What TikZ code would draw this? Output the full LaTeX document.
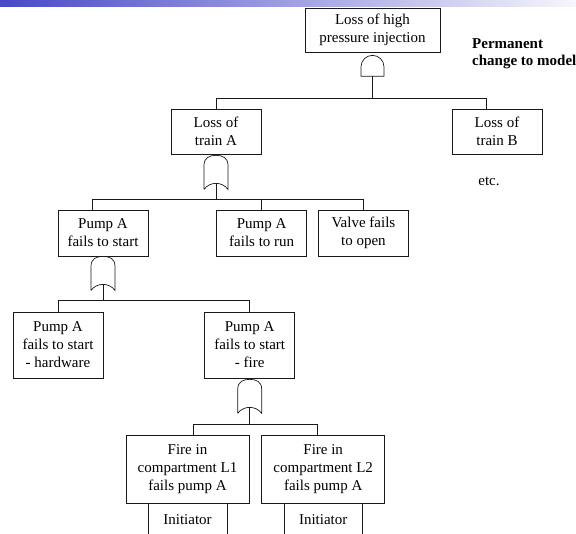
\documentclass[tikz,border=0pt]{standalone}
\usepackage{fontspec}
\setmainfont{Liberation Serif}
\usepackage{xcolor}
\definecolor{BARSTART}{RGB}{72,72,200}
\definecolor{BAREND}{RGB}{246,246,252}
\colorlet{LINECOLOR}{black!90}
\usepackage{tikz}
\usetikzlibrary{positioning,calc}
\tikzset{
  basic-style/.style = {
    rectangle, draw=LINECOLOR, line width=0.7pt,
    align=center, inner sep=0pt,
    font=\fontsize{15}{18}\selectfont
  },
  event-style/.style = {
    basic-style,
    minimum width=90pt,
    minimum height=#1
  },
  event-style/.default = 46pt,
  fire-style/.style = {
    basic-style,
    minimum width=123pt,
    minimum height=68pt
  },
  init-style/.style = {
    basic-style, draw=none,
    minimum width=78pt,
    minimum height=31pt
  },
  note-style/.style = {
    inner sep=0pt, align=left,
    font=\bfseries\fontsize{15}{17}\selectfont
  },
  line-style/.style = {
    draw=LINECOLOR, line width=0.7pt
  }
}
\newcommand\createOrGate[2]{
  \begin{scope}[shift={#2}]
    \draw[line-style] (-12,34) -- (-12,10)
      .. controls (-12,2) and (-6,0) .. (0,0)
      .. controls (6,0) and (12,2) .. (12,10) -- (12,34)
      .. controls (6,26) and (-6,26) .. (-12,34);
    \coordinate (#1-out) at (0,28);
  \end{scope}
}
\newcommand\createAndGate[2]{
  \begin{scope}[shift={#2}]
    \draw[line-style] (-11.5,21) -- (-11.5,11.5)
      arc[start angle=180,end angle=360,radius=11.5] -- (11.5,21) -- cycle;
    \coordinate (#1-out) at (0,21);
  \end{scope}
}

\begin{document}
\begin{tikzpicture}[x=1pt,y=-1pt]
    \useasboundingbox (0,0) rectangle (576,534);
    %%% title bar
    \shade[left color=BARSTART,right color=BAREND] (0,0) rectangle (576,7);

    %%% top event
    \node[event-style=44pt,minimum width=135pt] (top) at (372.5,30) {Loss of high\\pressure injection};
    \createAndGate{andTop}{([yshift=-3pt]top.south)}
    \node[note-style,anchor=west] (note) at (472,53.5) {Permanent\\change to model};

    %%% trains
    \node[event-style=45pt] (trainA) at (216,131.5) {Loss of\\train A};
    \node[event-style=45pt] (trainB) at (497,131.5) {Loss of\\train B};
    \node[inner sep=0pt,font=\fontsize{15}{18}\selectfont] (etc) at (489,181) {etc.};
    \createOrGate{orA}{([yshift=-1pt]trainA.south)}

    %%% pump and valve
    \node[event-style] (pumpStart) at (103,233) {Pump A\\fails to start};
    \node[event-style,right=68pt of pumpStart] (pumpRun) {Pump A\\fails to run};
    \node[event-style,right=11pt of pumpRun] (valve) {Valve fails\\to open};
    \createOrGate{orStart}{(pumpStart.south)}

    %%% causes of failure to start
    \node[event-style=66pt] (hardware) at (58,345) {Pump A\\fails to start\\- hardware};
    \node[event-style=66pt,right=101pt of hardware] (fire) {Pump A\\fails to start\\- fire};
    \createOrGate{orFire}{([yshift=-1pt]fire.south)}

    %%% fire compartments
    \node[fire-style] (fireL1) at (187.5,469) {Fire in\\compartment L1\\fails pump A};
    \node[fire-style,right=12pt of fireL1] (fireL2) {Fire in\\compartment L2\\fails pump A};
    \node[init-style,below=0pt of fireL1] (initL1) {Initiator};
    \node[init-style,below=0pt of fireL2] (initL2) {Initiator};
    \draw[line-style] (initL1.north west) -- (initL1.south west) (initL1.north east) -- (initL1.south east);
    \draw[line-style] (initL2.north west) -- (initL2.south west) (initL2.north east) -- (initL2.south east);

    %%% connectors
    \draw[line-style] (andTop-out) -- ++(0,22) coordinate (busTop);
    \draw[line-style] (trainA.north) |- (busTop);
    \draw[line-style] ([xshift=-11pt]trainB.north) |- (busTop);

    \draw[line-style] (orA-out) -- ++(0,16) coordinate (busA);
    \draw[line-style] ([xshift=-11pt]pumpStart.north) |- (busA);
    \draw[line-style] (pumpRun.north) -- (pumpRun.north |- busA);
    \draw[line-style] (valve.north) |- (busA);

    \draw[line-style] (orStart-out) -- ++(0,16) coordinate (busStart);
    \draw[line-style] (hardware.north) |- (busStart);
    \draw[line-style] (fire.north) |- (busStart);

    \draw[line-style] (orFire-out) -- ++(0,17) coordinate (busFire);
    \draw[line-style] ([xshift=5.5pt]fireL1.north) |- (busFire);
    \draw[line-style] ([xshift=-5.5pt]fireL2.north) |- (busFire);
  \end{tikzpicture}
\end{document}
